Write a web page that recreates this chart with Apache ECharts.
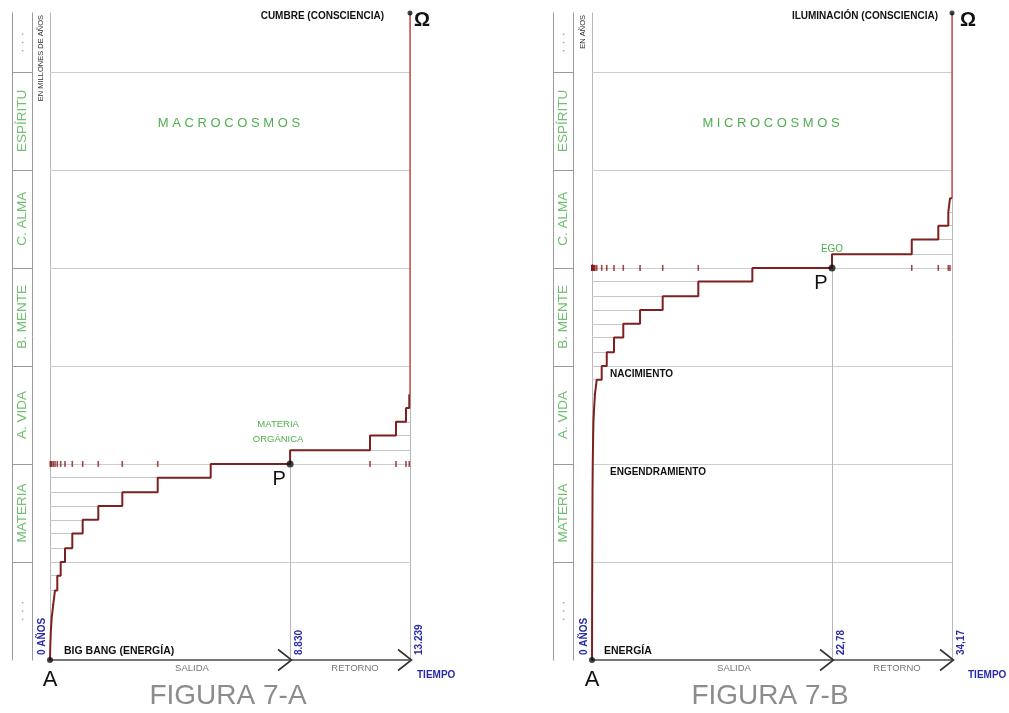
<!DOCTYPE html>
<html><head><meta charset="utf-8">
<script src="https://cdn.jsdelivr.net/npm/echarts@6/dist/echarts.min.js"></script>
<style>html,body{margin:0;padding:0;background:#fff}#c{width:1009px;height:713px}</style>
</head><body><div id="c"></div>
<script>
// ---------- DATA ----------
const bandNames = ['· · ·', 'MATERIA', 'A. VIDA', 'B. MENTE', 'C. ALMA', 'ESPÍRITU', '· · ·'];
const bandCenters = [0.5, 1.5, 2.5, 3.5, 4.5, 5.5, 6.3];
const bandBounds = [1, 2, 3, 4, 5, 6];
const levelTop = 6.6;

// Figura 7-A (millones de años)
const aEnd = 13239, aP = 8830, aPLevel = 2;
const aOutTimes  = [10, 30, 62, 121, 184, 268, 393, 552, 820, 1202, 1776, 2659, 3961, 5910];
const aOutLevels = [0.14, 0.29, 0.43, 0.57, 0.71, 0.86, 1.00, 1.14, 1.29, 1.43, 1.57, 1.71, 1.86, 2.00];
const aRetTimes  = [8830, 11768, 12724, 13092, 13213];
const aRetLevels = [2.14, 2.29, 2.43, 2.57, 2.71];
const aTickLabels = ['0 AÑOS', '8.830', '13.239'];

// Figura 7-B (años)
const bEnd = 34.17, bP = 22.78, bPLevel = 4;
const bOutTimes  = [0.003, 0.006, 0.009, 0.012, 0.016, 0.02, 0.025, 0.03, 0.035, 0.04, 0.045, 0.05, 0.06, 0.07,
                    0.09, 0.11, 0.14, 0.2, 0.28, 0.45, 0.92, 1.40, 2.09, 2.97, 4.56, 6.71, 10.09, 15.22];
const bOutLevels = [0.14, 0.29, 0.43, 0.57, 0.71, 0.86, 1.00, 1.14, 1.29, 1.43, 1.57, 1.71, 1.86, 2.00,
                    2.14, 2.29, 2.43, 2.57, 2.71, 2.86, 3.00, 3.14, 3.29, 3.43, 3.57, 3.71, 3.86, 4.00];
const bRetTimes  = [22.78, 30.35, 32.87, 33.82, 33.98];
const bRetLevels = [4.14, 4.29, 4.43, 4.57, 4.71];
const bTickLabels = ['0 AÑOS', '22,78', '34,17'];

// ---------- STYLE ----------
const FONT = '"Liberation Sans", Arial, Helvetica, sans-serif';
const GREEN = '#4fae4f', BLUE = '#2a2aa6', RED = '#7e2020', RED2 = '#c23c3c';
const GRIDC = '#cdcdcd', LVLC = '#c6c6c6';

const panels = [
  { left: 50, colLeft: 12.5, end: aEnd, p: aP, pL: aPLevel, outT: aOutTimes, outL: aOutLevels,
    retT: aRetTimes, retL: aRetLevels, ticks: aTickLabels,
    unit: 'EN MILLONES DE AÑOS', topText: 'CUMBRE (CONSCIENCIA)', topGap: 26, omegaGap: 12, start: 'BIG BANG (ENERGÍA)', startGap: 14,
    name: 'M A C R O C O S M O S', fig: 'FIGURA 7-A', tiempoGap: 7,
    notes: [{ t: 'MATERIA\nORGÁNICA', x: 'p', y: 2, dx: -12, dy: -32, c: GREEN, fs: 9.5, w: 'normal', a: 'center' }] },
  { left: 592, colLeft: 553.5, end: bEnd, p: bP, pL: bPLevel, outT: bOutTimes, outL: bOutLevels,
    retT: bRetTimes, retL: bRetLevels, ticks: bTickLabels,
    unit: 'EN AÑOS', topText: 'ILUMINACIÓN (CONSCIENCIA)', topGap: 14, omegaGap: 16, start: 'ENERGÍA', startGap: 12,
    name: 'M I C R O C O S M O S', fig: 'FIGURA 7-B', tiempoGap: 16,
    notes: [
      { t: 'EGO', x: 'p', y: 4, dx: 0, dy: -19, c: GREEN, fs: 10, w: 'normal', a: 'center' },
      { t: 'NACIMIENTO', x: 0, y: 3, dx: 18, dy: 8, c: '#111', fs: 10, w: 'bold', a: 'left' },
      { t: 'ENGENDRAMIENTO', x: 0, y: 2, dx: 18, dy: 8, c: '#111', fs: 10, w: 'bold', a: 'left' }
    ] }
];

const TOP = 13, H = 647;
const grid = [], xAxis = [], yAxis = [], series = [];

panels.forEach((P, i) => {
  const gPlot = grid.length;
  grid.push({ left: P.left, top: TOP, width: 360, height: H });
  const gCol = grid.length;
  grid.push({ left: P.colLeft, top: TOP, width: 19.5, height: H });

  const xi = xAxis.length;
  xAxis.push({ gridIndex: gPlot, type: 'value', min: 0, max: P.end,
    axisLine: { show: true, lineStyle: { color: '#4a4a4a', width: 1.5 } },
    axisTick: { show: false }, axisLabel: { show: false }, splitLine: { show: false } });
  xAxis.push({ gridIndex: gCol, type: 'value', min: 0, max: 1, show: false });
  const yi = yAxis.length;
  yAxis.push({ gridIndex: gPlot, type: 'value', min: 0, max: levelTop, interval: 1,
    axisLine: { show: true, lineStyle: { color: '#b8b8b8', width: 1 } },
    axisTick: { show: false }, axisLabel: { show: false }, splitLine: { show: false } });
  const yc = yAxis.length;
  yAxis.push({ gridIndex: gCol, type: 'value', min: 0, max: levelTop, interval: 1, position: 'left',
    axisLine: { show: true, lineStyle: { color: '#9a9a9a' } }, axisTick: { show: false }, axisLabel: { show: false },
    splitLine: { show: false } });
  yAxis.push({ gridIndex: gCol, type: 'value', min: 0, max: levelTop, position: 'right',
    axisLine: { show: true, lineStyle: { color: '#9a9a9a' } }, axisTick: { show: false }, axisLabel: { show: false },
    splitLine: { show: false } });
  P.xi = xi; P.yi = yi;

  // column separators and band labels
  series.push({ type: 'lines', coordinateSystem: 'cartesian2d', xAxisIndex: xi + 1, yAxisIndex: yc, silent: true,
    data: bandBounds.map(b => ({ coords: [[0, b], [1, b]] })), lineStyle: { color: '#9a9a9a', width: 1, opacity: 1 } });
  series.push({ type: 'scatter', xAxisIndex: xi + 1, yAxisIndex: yc, symbolSize: 0, silent: true,
    data: bandCenters.map((c, k) => ({ value: [0.5, c], name: bandNames[k] })),
    label: { show: true, position: 'inside', rotate: 90, formatter: p => p.name,
      color: GREEN, fontSize: 13.5, fontFamily: FONT } });

  // band boundary grid lines
  series.push({ type: 'lines', coordinateSystem: 'cartesian2d', xAxisIndex: xi, yAxisIndex: yi, silent: true,
    data: bandBounds.map(b => ({ coords: [[0, b], [P.end, b]] })), lineStyle: { color: GRIDC, width: 1, opacity: 1 }, z: 1 });
  // thin gray level lines
  const lvl = [];
  P.outT.forEach((t, k) => { if (P.outL[k] !== P.pL) lvl.push({ coords: [[0, P.outL[k]], [t, P.outL[k]]] }); });
  P.retT.forEach((t, k) => lvl.push({ coords: [[t, P.retL[k]], [P.end, P.retL[k]]] }));
  series.push({ type: 'lines', coordinateSystem: 'cartesian2d', xAxisIndex: xi, yAxisIndex: yi, silent: true,
    data: lvl, lineStyle: { color: LVLC, width: 1, opacity: 1 }, z: 2 });
  // vertical reference lines
  series.push({ type: 'lines', coordinateSystem: 'cartesian2d', xAxisIndex: xi, yAxisIndex: yi, silent: true,
    data: [{ coords: [[P.p, 0], [P.p, P.pL]] }, { coords: [[P.end, 0], [P.end, levelTop]] }],
    lineStyle: { color: '#b8b8b8', width: 1, opacity: 1 }, z: 2 });
  // tick marks projected onto the P level
  const tk = P.outT.slice(0, -1).map(t => [t, P.pL]).concat(P.retT.slice(1).map(t => [t, P.pL]));
  series.push({ type: 'scatter', xAxisIndex: xi, yAxisIndex: yi, silent: true, symbol: 'rect',
    symbolSize: [1.6, 6], itemStyle: { color: '#8a1c1c' }, data: tk, z: 4 });
  // step line
  const pts = [[0, 0]];
  let prev = 0;
  P.outT.forEach((t, k) => { pts.push([t, prev]); pts.push([t, P.outL[k]]); prev = P.outL[k]; });
  P.retT.forEach((t, k) => { pts.push([t, prev]); pts.push([t, P.retL[k]]); prev = P.retL[k]; });
  pts.push([P.end, prev]);
  series.push({ type: 'line', xAxisIndex: xi, yAxisIndex: yi, data: pts, showSymbol: false, symbol: 'none',
    silent: true, lineStyle: { color: RED, width: 2 }, z: 5, animation: false });
  series.push({ type: 'line', xAxisIndex: xi, yAxisIndex: yi, data: [[P.end, prev], [P.end, levelTop]],
    showSymbol: false, symbol: 'none', silent: true, lineStyle: { color: RED2, width: 1.3 }, z: 5 });
  // dots A, P, Omega
  series.push({ type: 'scatter', xAxisIndex: xi, yAxisIndex: yi, silent: true, z: 8,
    itemStyle: { color: '#111' },
    data: [{ value: [0, 0], symbolSize: 6 }, { value: [P.p, P.pL], symbolSize: 7 }, { value: [P.end, levelTop], symbolSize: 5 }] });
});

const chart = echarts.init(document.getElementById('c'), null, { renderer: 'canvas' });
chart.setOption({ animation: false, backgroundColor: '#fff', grid, xAxis, yAxis, series });

// ---------- annotations anchored to the axes ----------
const gfx = [];
function T(x, y, text, o) {
  o = o || {};
  gfx.push({ type: 'text', x, y, rotation: o.rot || 0, silent: true, z: 20,
    style: { text, fill: o.c || '#111', fontFamily: FONT, fontSize: o.fs || 10, fontWeight: o.w || 'bold',
      align: o.a || 'left', textAlign: o.a || 'left', verticalAlign: o.v || 'middle', textVerticalAlign: o.v || 'middle',
      lineHeight: o.lh || undefined } });
}
panels.forEach(P => {
  const px = v => chart.convertToPixel({ xAxisIndex: P.xi, yAxisIndex: P.yi }, v);
  const o = px([0, 0]), pp = px([P.p, P.pL]), pb = px([P.p, 0]), eb = px([P.end, 0]), et = px([P.end, levelTop]);
  const R = Math.PI / 2;
  T(o[0] - 9, et[1] + 2, P.unit, { rot: R, a: 'right', fs: 7.5, w: 'normal', c: '#333' });
  T(et[0] - P.topGap, et[1] + 3, P.topText, { a: 'right', fs: 10 });
  T(et[0] + P.omegaGap, et[1] + 7, 'Ω', { a: 'center', fs: 20, w: 'bold', c: '#111' });
  T(o[0] + P.startGap, o[1] - 9, P.start, { fs: 10.5 });
  T(o[0], o[1] + 20, 'A', { a: 'center', fs: 22, w: 'normal', c: '#111' });
  T(pp[0] - 11, pp[1] + 16, 'P', { a: 'center', fs: 20, w: 'normal', c: '#111' });
  // rotated axis values
  T(o[0] - 8, o[1] - 5, P.ticks[0], { rot: R, fs: 10, c: BLUE });
  T(pb[0] + 9, pb[1] - 5, P.ticks[1], { rot: R, fs: 10, c: BLUE });
  T(eb[0] + 9, eb[1] - 5, P.ticks[2], { rot: R, fs: 10, c: BLUE });
  T(o[0] + 142, o[1] + 8, 'SALIDA', { a: 'center', fs: 9.5, w: 'normal', c: '#777' });
  T(eb[0] - 55, eb[1] + 8, 'RETORNO', { a: 'center', fs: 9.5, w: 'normal', c: '#777' });
  T(eb[0] + P.tiempoGap, eb[1] + 15, 'TIEMPO', { fs: 10, c: BLUE });
  T(o[0] + 179, 123, P.name, { a: 'center', fs: 13, w: 'normal', c: GREEN });
  T(o[0] + 178, 696, P.fig, { a: 'center', fs: 28, w: 'normal', c: '#8c8c8c' });
  [pb, eb].forEach(q => gfx.push({ type: 'polyline', silent: true, z: 20,
    shape: { points: [[q[0] - 12, q[1] - 10.5], [q[0] + 1.5, q[1]], [q[0] - 12, q[1] + 10.5]] },
    style: { stroke: '#333', lineWidth: 1.6, fill: null } }));
  P.notes.forEach(n => {
    const q = px([n.x === 'p' ? P.p : n.x, n.y]);
    T(q[0] + n.dx, q[1] + n.dy, n.t, { a: n.a, fs: n.fs, w: n.w, c: n.c, lh: 15 });
  });
});
chart.setOption({ graphic: gfx });
</script></body></html>
